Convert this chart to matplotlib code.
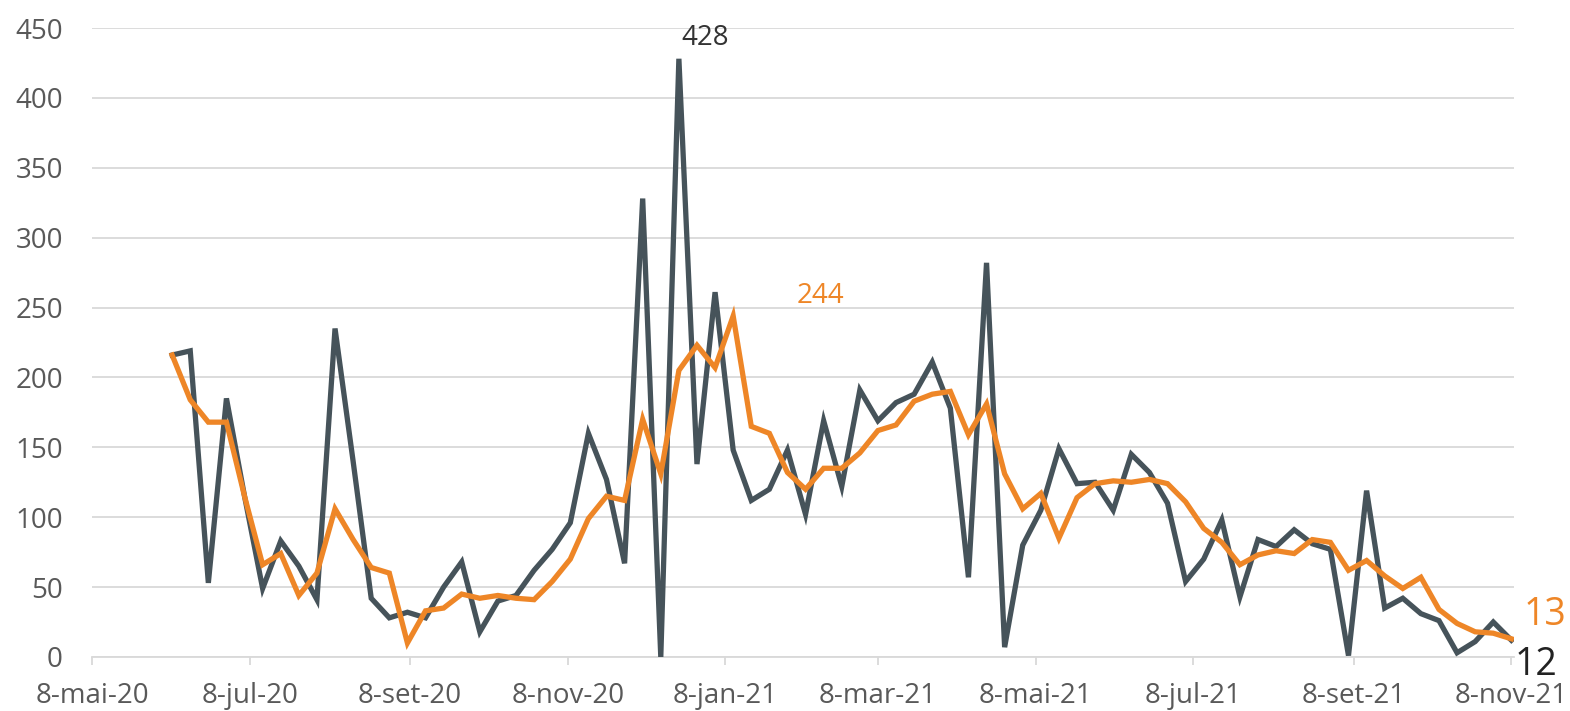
import matplotlib
matplotlib.use("Agg")
import matplotlib.pyplot as plt
import pandas as pd

plt.rcParams['font.family'] = ['Open Sans', 'DejaVu Sans']

# weekly values, 8-jun-20 .. 8-nov-21
weeks = pd.date_range('2020-06-08', periods=75, freq='7D')
weekly = [216, 219, 53, 185, 115, 49, 83, 65, 41, 235,
          140, 42, 28, 32, 28, 50, 68, 18, 40, 44,
          62, 77, 96, 160, 127, 67, 328, 0, 428, 138,
          261, 148, 112, 120, 148, 102, 169, 122, 191, 169,
          182, 188, 211, 178, 57, 282, 7, 80, 105, 149,
          124, 125, 105, 145, 132, 110, 54, 70, 98, 43,
          84, 79, 91, 81, 77, 1, 119, 35, 42, 31,
          26, 3, 11, 25, 12]
average = [216, 184, 168, 168, 115, 66, 74, 44, 60, 106,
           84, 64, 60, 10, 33, 35, 45, 42, 44, 42,
           41, 54, 70, 99, 115, 112, 170, 131, 205, 223,
           207, 244, 165, 160, 132, 120, 135, 135, 146, 162,
           166, 183, 188, 190, 159, 181, 131, 106, 117, 85,
           114, 124, 126, 125, 127, 124, 111, 92, 82, 66,
           73, 76, 74, 84, 82, 62, 69, 58, 49, 57,
           34, 24, 18, 17, 13]

tick_dates = pd.to_datetime(['2020-05-08', '2020-07-08', '2020-09-08', '2020-11-08',
                             '2021-01-08', '2021-03-08', '2021-05-08', '2021-07-08',
                             '2021-09-08', '2021-11-08'])
tick_labels = ['8-mai-20', '8-jul-20', '8-set-20', '8-nov-20', '8-jan-21',
               '8-mar-21', '8-mai-21', '8-jul-21', '8-set-21', '8-nov-21']

dark = '#46535a'
orange = '#ee8627'
grey = '#595959'

fig = plt.figure(figsize=(15.7, 7.11), dpi=100)
ax = fig.add_axes([0.0586, 0.076, 0.9057, 0.8846])

ax.plot(weeks, weekly, color=dark, lw=3.8, solid_joinstyle='miter', zorder=3)
ax.plot(weeks, average, color=orange, lw=3.8, solid_joinstyle='miter', zorder=4)

ax.set_ylim(0, 450)
ax.set_xlim(tick_dates[0], pd.Timestamp('2021-11-09'))
ax.set_yticks(range(0, 451, 50))
ax.set_xticks(tick_dates)
ax.set_xticklabels(tick_labels)
ax.grid(axis='y', color='#d9d9d9', lw=1.3)
ax.set_axisbelow(True)
for s in ['top', 'right', 'left']:
    ax.spines[s].set_visible(False)
ax.spines['bottom'].set_color('#d9d9d9')
ax.spines['bottom'].set_linewidth(1.3)
ax.tick_params(axis='y', length=0, labelsize=20, labelcolor=grey, pad=21)
ax.tick_params(axis='x', length=6, width=1.3, color='#d9d9d9',
               labelsize=20, labelcolor=grey, pad=12)

# labels on peaks and last values
imax = weekly.index(max(weekly))
ax.annotate(str(weekly[imax]), (weeks[imax], weekly[imax]), xytext=(19, 15),
            textcoords='offset points', ha='center', va='center',
            fontsize=20, color='#333333')
iavg = average.index(max(average))
ax.annotate(str(average[iavg]), (weeks[iavg], average[iavg]), xytext=(63, 14),
            textcoords='offset points', ha='center', va='center',
            fontsize=20, color=orange)
ax.annotate(str(average[-1]), (weeks[-1], average[-1]), xytext=(24, 17),
            textcoords='offset points', ha='center', va='center',
            fontsize=27, color=orange, annotation_clip=False)
ax.annotate(str(weekly[-1]), (weeks[-1], weekly[-1]), xytext=(18, -18),
            textcoords='offset points', ha='center', va='center',
            fontsize=27, color='#222222', annotation_clip=False)

fig.savefig('out.png', dpi=100)
